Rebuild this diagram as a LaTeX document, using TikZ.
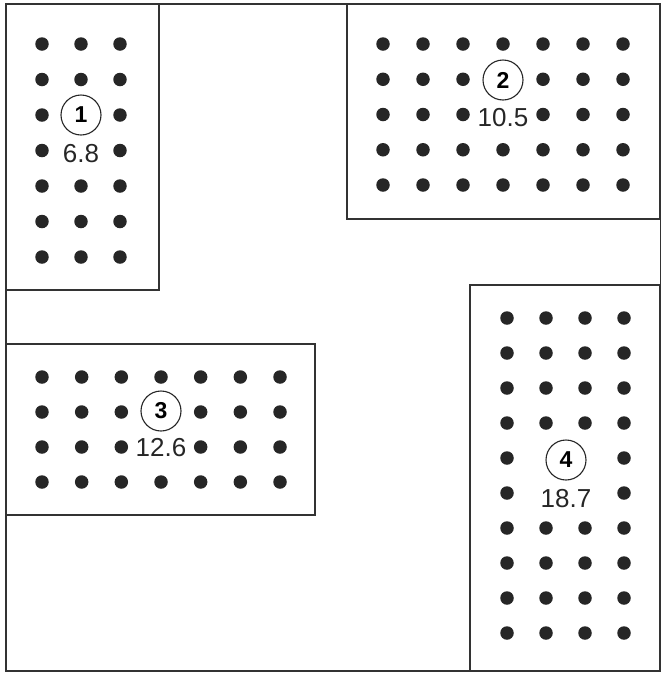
\documentclass[tikz,border=0pt]{standalone}
\usepackage{fontspec}
\setmainfont{Liberation Sans}
\usepackage{tikz}
\usetikzlibrary{positioning}

\begin{document}
\begin{tikzpicture}[
      x=1pt, y=-1pt,
      dot/.style   = {circle, fill=black!85, inner sep=0pt, minimum size=13.5pt},
      num/.style   = {circle, draw=black!85, line width=1.1pt, minimum size=40pt,
                      inner sep=0pt, font=\fontsize{23}{25}\selectfont\bfseries},
      val/.style   = {inner sep=0pt, font=\fontsize{26}{29}\selectfont, text=black!85},
      lot/.style   = {draw=black!80, line width=1.3pt},
      wall/.style  = {draw=black!80, line width=2.4pt},
    ]
    \useasboundingbox (0,0) rectangle (661,673);

    %% ------------------------------------------------ outer boundary
    \draw[wall] (660,4) -- (6,4) -- (6,671) -- (660,671);
    \draw[draw=black!80, line width=1pt] (660,4) -- (660,671);

    %% ------------------------------------------------ block 1 (3 x 7)
    \draw[lot] (6,4) rectangle (159,290);
    \foreach \r in {1,...,7}{
      \foreach \c in {1,2,3}{
        \pgfmathtruncatemacro\hole{(\c==2)&&(\r>2)&&(\r<5)}
        \ifnum\hole=0
          \node[dot] (a\c-\r) at ({42+39*(\c-1)}, {44+35.5*(\r-1)}) {};
        \fi
      }
    }
    \node[num] (n1) at (81,115) {1};
    \node[val, below=29pt of n1.center] (v1) {6.8};

    %% ------------------------------------------------ block 2 (7 x 5)
    \draw[lot] (347,4) rectangle (660,219);
    \foreach \r in {1,...,5}{
      \foreach \c in {1,...,7}{
        \pgfmathtruncatemacro\hole{(\c==4)&&(\r>1)&&(\r<4)}
        \ifnum\hole=0
          \node[dot] (b\c-\r) at ({383+40*(\c-1)}, {44+35.25*(\r-1)}) {};
        \fi
      }
    }
    \node[num] (n2) at (503,80) {2};
    \node[val, below=28pt of n2.center] (v2) {10.5};

    %% ------------------------------------------------ block 3 (7 x 4)
    \draw[lot] (6,344) rectangle (315,515);
    \foreach \r in {1,...,4}{
      \foreach \c in {1,...,7}{
        \pgfmathtruncatemacro\hole{(\c==4)&&(\r>1)&&(\r<4)}
        \ifnum\hole=0
          \node[dot] (c\c-\r) at ({42+39.67*(\c-1)}, {377+35*(\r-1)}) {};
        \fi
      }
    }
    \node[num] (n3) at (161,411) {3};
    \node[val, below=27pt of n3.center] (v3) {12.6};

    %% ------------------------------------------------ block 4 (4 x 10)
    \draw[lot] (470,285) rectangle (660,671);
    \foreach \r in {1,...,10}{
      \foreach \c in {1,...,4}{
        \pgfmathtruncatemacro\hole{(\c>1)&&(\c<4)&&(\r>4)&&(\r<7)}
        \ifnum\hole=0
          \node[dot] (d\c-\r) at ({507+39*(\c-1)}, {318+35*(\r-1)}) {};
        \fi
      }
    }
    \node[num] (n4) at (566,460) {4};
    \node[val, below=29pt of n4.center] (v4) {18.7};
  \end{tikzpicture}
\end{document}
